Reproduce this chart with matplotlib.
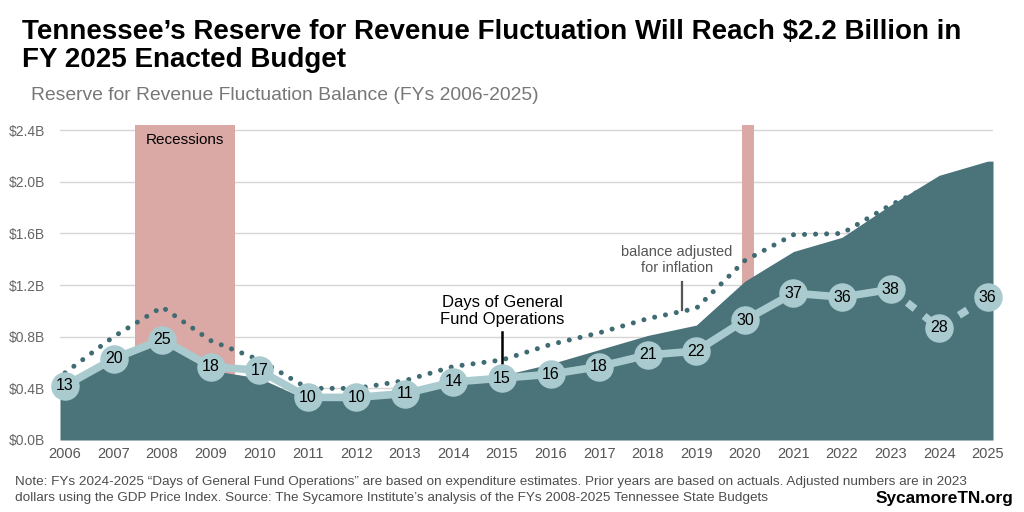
import numpy as np
import matplotlib.pyplot as plt

plt.rcParams['font.family'] = ['Liberation Sans', 'DejaVu Sans']

# data
years = np.arange(2006, 2026)
balance = [0.42, 0.63, 0.75, 0.54, 0.48, 0.31, 0.32, 0.37, 0.48, 0.50,
           0.59, 0.70, 0.81, 0.89, 1.23, 1.46, 1.57, 1.82, 2.05, 2.16]
adjusted = [0.52, 0.80, 1.03, 0.77, 0.62, 0.40, 0.40, 0.46, 0.57, 0.62,
            0.74, 0.83, 0.94, 1.02, 1.39, 1.59, 1.60, 1.82, 2.00, 2.06]
days = [13, 20, 25, 18, 17, 10, 10, 11, 14, 15, 16, 18, 21, 22, 30, 37, 36, 38, 28, 36]
recessions = [(2007.44, 2009.50), (2019.94, 2020.19)]
yticks = [0.0, 0.4, 0.8, 1.2, 1.6, 2.0, 2.4]

area_c = "#4a737a"
light_c = "#a9cace"
band_c = "#dba9a5"

fig = plt.figure(figsize=(10.24, 5.12), dpi=100)
ax = fig.add_axes([60/1024, 72/512, 933/1024, 315/512])
xlim = (2005.897, 2025.11)
ax.set_xlim(xlim)
ax.set_ylim(0, 2.44)

for a, b in recessions:
    ax.axvspan(a, b, color=band_c, lw=0, zorder=1)

ax.plot(years, adjusted, color="#3f6b72", lw=3.6, linestyle=(0, (0.01, 2.2)),
        dash_capstyle="round", zorder=2)

# area stretched to the plot edges
ax_x = np.concatenate([[xlim[0]], years, [xlim[1]]])
ax_y = np.concatenate([[balance[0]], balance, [balance[-1]]])
ax.fill_between(ax_x, 0, ax_y, color=area_c, lw=0, zorder=3)

ax.set_yticks(yticks)
ax.set_yticklabels([f"${v:.1f}B" for v in yticks])
ax.set_xticks(years)
ax.set_xticklabels([str(y) for y in years])
ax.grid(axis="y", color="#d6d6d6", lw=1, zorder=0)
ax.set_axisbelow(True)
ax.tick_params(axis="y", length=0, labelsize=10, labelcolor="#666666", pad=11)
ax.tick_params(axis="x", length=0, labelsize=10.5, labelcolor="#555555", pad=5)
for s in ax.spines.values():
    s.set_visible(False)

ax.text(2008.47, 2.32, "Recessions", ha="center", va="center", fontsize=11, zorder=5)
ax.text(2015.0, 1.0, "Days of General\nFund Operations", ha="center", va="center",
        fontsize=12, linespacing=1.15, zorder=5)
ax.plot([2015.0, 2015.0], [0.84, 0.55], color="black", lw=1.8, zorder=4)
ax.text(2018.6, 1.395, "balance adjusted\nfor inflation", ha="center", va="center",
        fontsize=10.5, color="#555555", linespacing=1.2, zorder=5)
ax.plot([2018.71, 2018.71], [1.225, 1.01], color="#555555", lw=1.6, zorder=4)

# days of operations on a hidden second scale
ax2 = ax.twinx()
ax2.set_ylim(-1.04, 80.6)
ax2.set_axis_off()
ax2.plot(years[:18], days[:18], color=light_c, lw=5.5, solid_capstyle="round", zorder=2)
ax2.plot(years[17:], days[17:], color=light_c, lw=5.5, linestyle=(0, (1.3, 1.5)), zorder=2)
ax2.plot(years, days, "o", color=light_c, ms=19.5, zorder=3, clip_on=False)
for x, d in zip(years, days):
    ax2.text(x, d, str(d), ha="center", va="center", fontsize=11.5, color="black", zorder=4)

fig.text(22/1024, 1 - 46/512, "Tennessee\u2019s Reserve for Revenue Fluctuation Will Reach $2.2 Billion in\nFY 2025 Enacted Budget",
         fontsize=20, fontweight="bold", va="center", ha="left", linespacing=1.1)
fig.text(31/1024, 1 - 95/512, "Reserve for Revenue Fluctuation Balance (FYs 2006-2025)",
         fontsize=13.9, color="#777777", va="center", ha="left")
fig.text(15/1024, 1 - 482/512,
         "Note: FYs 2024-2025 \u201cDays of General Fund Operations\u201d are based on expenditure estimates. Prior years are based on actuals. Adjusted numbers are in 2023",
         fontsize=9.7, color="#4d4d4d", va="center", ha="left")
fig.text(15/1024, 1 - 498/512,
         "dollars using the GDP Price Index. Source: The Sycamore Institute\u2019s analysis of the FYs 2008-2025 Tennessee State Budgets",
         fontsize=9.7, color="#4d4d4d", va="center", ha="left")
fig.text(1013/1024, 1 - 498/512, "SycamoreTN.org", fontsize=12.4, fontweight="bold",
         ha="right", va="center")

fig.savefig("out.png", dpi=100)
